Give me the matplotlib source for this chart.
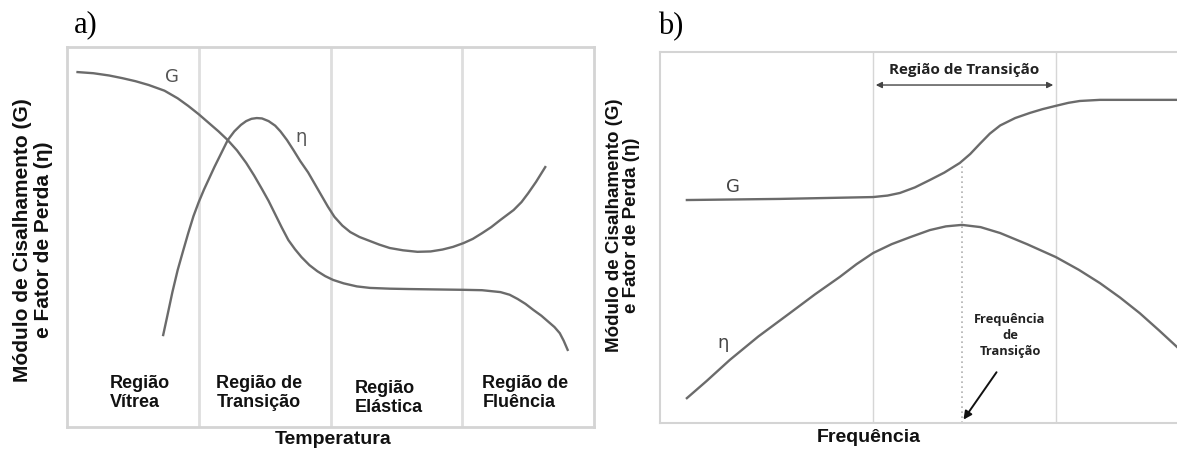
import matplotlib
matplotlib.use("Agg")
import matplotlib.pyplot as plt

# painel a) - temperatura (regioes 0-1-2-3-4)
Ga_x = [0.08, 0.2, 0.32, 0.42, 0.52, 0.62, 0.74, 0.84, 0.92, 1.0, 1.07, 1.15, 1.22, 1.29, 1.36,
        1.42, 1.48, 1.53, 1.58, 1.63, 1.68, 1.73, 1.78, 1.84, 1.9, 1.96, 2.02, 2.1, 2.2, 2.3,
        2.45, 2.6, 2.8, 3.01, 3.15, 3.29, 3.36, 3.42, 3.48, 3.54, 3.6, 3.65, 3.7, 3.74, 3.77, 3.80]
Ga_y = [9.34, 9.31, 9.25, 9.18, 9.10, 9.0, 8.85, 8.65, 8.45, 8.23, 8.02, 7.78, 7.55, 7.28, 6.95,
        6.62, 6.26, 5.95, 5.6, 5.25, 4.92, 4.68, 4.47, 4.26, 4.1, 3.97, 3.87, 3.78, 3.70, 3.66,
        3.64, 3.63, 3.62, 3.61, 3.60, 3.55, 3.48, 3.37, 3.24, 3.08, 2.93, 2.78, 2.63, 2.47, 2.27, 2.03]
Ea_x = [0.73, 0.76, 0.80, 0.84, 0.88, 0.92, 0.96, 1.0, 1.04, 1.08, 1.12, 1.17, 1.22, 1.27, 1.32,
        1.36, 1.40, 1.44, 1.48, 1.53, 1.58, 1.62, 1.67, 1.72, 1.77, 1.83, 1.88, 1.93, 1.98, 2.03,
        2.09, 2.15, 2.22, 2.28, 2.37, 2.45, 2.55, 2.66, 2.76, 2.85, 2.93, 3.01, 3.08, 3.15, 3.22,
        3.29, 3.34, 3.39, 3.45, 3.5, 3.56, 3.63]
Ea_y = [2.42, 2.9, 3.55, 4.13, 4.62, 5.1, 5.55, 5.92, 6.25, 6.55, 6.85, 7.2, 7.55, 7.78, 7.95,
        8.05, 8.11, 8.13, 8.12, 8.05, 7.93, 7.78, 7.55, 7.28, 7.0, 6.7, 6.4, 6.1, 5.8, 5.53,
        5.3, 5.13, 5.0, 4.92, 4.8, 4.71, 4.65, 4.61, 4.62, 4.67, 4.74, 4.84, 4.95, 5.1, 5.26,
        5.45, 5.58, 5.71, 5.92, 6.15, 6.45, 6.84]
regioes_a = ["Região\nVítrea", "Região de\nTransição", "Região\nElástica", "Região de\nFluência"]
divisoes_a = [1, 2, 3]

# painel b) - frequencia
Gb_x = [0.52, 2.32, 4.12, 4.4, 4.64, 4.93, 5.22, 5.5, 5.80, 6.0, 6.19, 6.38, 6.58, 6.87, 7.16,
        7.4, 7.66, 7.9, 8.12, 8.51, 9.0, 10.0]
Gb_y = [6.01, 6.04, 6.09, 6.13, 6.20, 6.35, 6.55, 6.75, 7.01, 7.25, 7.53, 7.8, 8.02, 8.22, 8.36,
        8.46, 8.55, 8.63, 8.68, 8.71, 8.71, 8.71]
Eb_x = [0.52, 0.9, 1.35, 1.9, 2.51, 3.0, 3.48, 3.8, 4.12, 4.48, 4.84, 5.22, 5.53, 5.84, 6.2,
        6.58, 7.1, 7.66, 8.1, 8.51, 8.9, 9.28, 9.65, 10.0]
Eb_y = [0.67, 1.13, 1.70, 2.33, 2.96, 3.47, 3.94, 4.28, 4.58, 4.82, 5.01, 5.20, 5.30, 5.34, 5.28,
        5.12, 4.82, 4.47, 4.13, 3.77, 3.38, 2.96, 2.5, 2.05]
divisoes_b = [4.12, 7.66]
f_trans = 5.84

linha = "#6b6b6b"
borda = "#d4d4d4"
bold_font = "Liberation Sans"

fig = plt.figure(figsize=(11.77, 4.51), dpi=100)

# ---------- a)
ax = fig.add_axes([67/1177, 24/451, 527/1177, 380/451])
ax.set_xlim(0, 4)
ax.set_ylim(0, 10)
for d in divisoes_a:
    ax.axvline(d, color="#dedede", lw=2)
ax.plot(Ga_x, Ga_y, color=linha, lw=1.7, solid_joinstyle="round")
ax.plot(Ea_x, Ea_y, color=linha, lw=1.7, solid_joinstyle="round")
ax.text(0.80, 9.21, "G", fontsize=13, color="#555555", family="DejaVu Sans", ha="center", va="center")
ax.text(1.78, 7.63, "η", fontsize=13, color="#555555", family="DejaVu Sans", ha="center", va="center")
pos_lab = [(0.55, 0.89), (1.46, 0.89), (2.44, 0.76), (3.48, 0.89)]
for (px, py), t in zip(pos_lab, regioes_a):
    ax.text(px, py, t, ha="center", va="center", multialignment="left", fontsize=13,
            fontweight="bold", family=bold_font, linespacing=1.2, color="#111111")
ax.set_xticks([])
ax.set_yticks([])
for s in ax.spines.values():
    s.set_color(borda)
    s.set_linewidth(2)

# ---------- b)
bx = fig.add_axes([660/1177, 28/451, 517/1177, 371/451])
bx.set_xlim(0, 10)
bx.set_ylim(0, 10)
for d in divisoes_b:
    bx.axvline(d, color="#d6d6d6", lw=1)
bx.plot([f_trans, f_trans], [0, 7.01], color="#b0b0b0", lw=1.2, ls=(0, (1, 2)))
bx.plot(Gb_x, Gb_y, color=linha, lw=1.7, solid_joinstyle="round")
bx.plot(Eb_x, Eb_y, color=linha, lw=1.7, solid_joinstyle="round")
bx.text(1.41, 6.36, "G", fontsize=13, color="#444444", family="DejaVu Sans", ha="center", va="center")
bx.text(1.22, 2.16, "η", fontsize=13, color="#444444", family="DejaVu Sans", ha="center", va="center")
bx.annotate("", xy=(divisoes_b[0], 9.11), xytext=(divisoes_b[1], 9.11),
            arrowprops=dict(arrowstyle="<|-|>", color="#444444", lw=1, mutation_scale=9))
bx.text(sum(divisoes_b) / 2, 9.52, "Região de Transição", ha="center", va="center",
        fontsize=11, fontweight="bold", family="Open Sans", color="#222222")
bx.text(6.77, 2.37, "Frequência\nde\nTransição", ha="center", va="center", fontsize=9.3,
        fontweight="bold", family="Open Sans", linespacing=1.3, color="#222222")
bx.annotate("", xy=(f_trans, 0.03), xytext=(6.54, 1.43),
            arrowprops=dict(arrowstyle="-|>", color="#111111", lw=1.4, mutation_scale=12))
bx.set_xticks([])
bx.set_yticks([])
bx.spines["right"].set_visible(False)
for k in ["top", "left", "bottom"]:
    bx.spines[k].set_color(borda)
    bx.spines[k].set_linewidth(1.5)

# ---------- textos da figura
fig.text(74/1177, 1 - 25/451, "a)", fontsize=22, family="Liberation Serif", va="center")
fig.text(658/1177, 1 - 27/451, "b)", fontsize=22, family="Liberation Serif", va="center")
ylab = "Módulo de Cisalhamento (G)\ne Fator de Perda (η)"
fig.text(33/1177, 1 - 240/451, ylab, rotation=90, ha="center", va="center", fontsize=15,
         fontweight="bold", family=bold_font, linespacing=1.1, color="#111111")
fig.text(623/1177, 1 - 225/451, ylab, rotation=90, ha="center", va="center", fontsize=13.5,
         fontweight="bold", family=bold_font, linespacing=1.05, color="#111111")
fig.text(333/1177, 1 - 440/451, "Temperatura", ha="center", va="center", fontsize=14,
         fontweight="bold", family=bold_font, color="#111111")
fig.text(869/1177, 1 - 437/451, "Frequência", ha="center", va="center", fontsize=14,
         fontweight="bold", family=bold_font, color="#111111")

fig.savefig("out.png", dpi=100)
